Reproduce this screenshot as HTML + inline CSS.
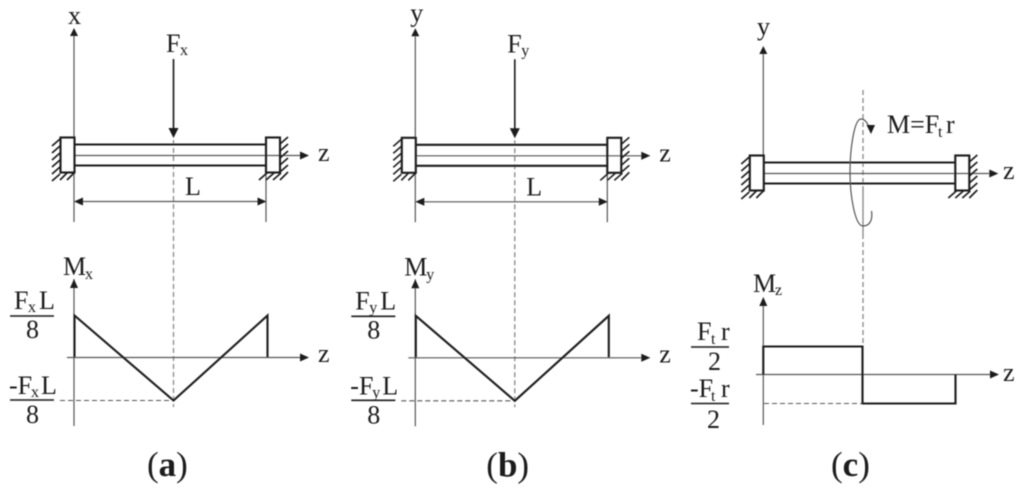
<!DOCTYPE html>
<html>
<head>
<meta charset="utf-8">
<style>
html,body{margin:0;padding:0;background:#fff;width:1024px;height:492px;overflow:hidden}
svg{display:block}
text{font-family:"Liberation Serif",serif;fill:#1a1a1a}
.t{font-size:26px}
.s{font-size:16px}
.b{font-size:35px}
.l1{stroke:#555;stroke-width:1.2;fill:none}
.l2{stroke:#1a1a1a;stroke-width:2.1;fill:none}
.l3{stroke:#1a1a1a;stroke-width:1.6;fill:none}
.d{stroke:#888;stroke-width:1.3;stroke-dasharray:5 3;fill:none}
.d2{stroke:#555;stroke-width:1.1;stroke-dasharray:5 3;fill:none}
.a{fill:#1a1a1a;stroke:none}
</style>
</head>
<body>
<svg width="1024" height="492" viewBox="0 0 1024 492" xmlns="http://www.w3.org/2000/svg">
<defs>
<filter id="bl" x="0" y="0" width="100%" height="100%"><feGaussianBlur stdDeviation="0.4"/></filter>
<g id="beam">
  <path class="l1" d="M74 155.500H300"/>
  <path class="a" d="M300 151.500L309 155.500L300 159.500Z"/>
  <path class="l2" d="M74 144.500H266M74 165.500H266"/>
  <rect x="60.500" y="137.500" width="14" height="35" class="l2"/>
  <rect x="266" y="137.500" width="14" height="35" class="l2"/>
  <path class="l3" d="M60 139L52 146M60 146L52 153M60 153L52 160M60 160L52 167M60 167L52 174M60 174L52 181M67 173L60 180M74 173L67 180"/>
  <path class="l3" d="M288 137L280 144M288 144L280 151M288 151L280 158M288 158L280 165M288 165L280 172M288 172L280 180M281 173L273 180M274 173L266 180M267 173L259 180"/>
</g>
<g id="bending">
  <path class="l1" d="M67 357.500H300"/>
  <path class="a" d="M300 353.500L309 357.500L300 361.500Z"/>
  <path class="l2" d="M74.500 357V315.500L173.500 400.500L267.500 315.500V357"/>
  <path class="d2" d="M60 400.500H172"/>
  <path class="l3" d="M10 316H54M10 400H54"/>
</g>
<g id="dim">
  <path class="l1" d="M74 172V222M266 172V222M80 201.500H260"/>
  <path class="a" d="M74 201.500L83 197.500V205.500ZM266.500 201.500L257.500 197.500V205.500Z"/>
  <path class="l3" d="M173.500 59V130"/>
  <path class="a" d="M168.500 128H178.500L173.500 138Z"/>
</g>
</defs>
<rect width="1024" height="492" fill="#fff"/>
<g filter="url(#bl)">

<!-- Panel a -->
<path class="d" d="M173.500 140V407"/>
<path class="l1" d="M74 36V137M74 279V426"/>
<path class="a" d="M74 28L78 36H70ZM74 279L78 288H70Z"/>
<use href="#dim"/><use href="#beam"/><use href="#bending"/>
<text class="t" x="68" y="24">x</text>
<text class="t" x="166" y="52">F</text><text class="s" x="180" y="55">x</text>
<text class="t" x="318" y="161">z</text>
<text class="t" x="185" y="195">L</text>
<text class="t" x="63" y="275">M</text><text class="s" x="85" y="279">x</text>
<text class="t" x="14" y="309">F</text><text class="s" x="28" y="312">x</text><text class="t" x="39" y="309">L</text>
<text class="t" x="26" y="338">8</text>
<text class="t" x="318" y="362">z</text>
<text class="t" x="9" y="394">-F</text><text class="s" x="31" y="397">x</text><text class="t" x="41" y="394">L</text>
<text class="t" x="26" y="423">8</text>
<text class="b" x="147" y="476">(<tspan font-weight="bold">a</tspan>)</text>

<!-- Panel b -->
<g transform="translate(341.300 0.300)">
<path class="d" d="M173.500 140V407"/>
<path class="l1" d="M74 36V137M74 279V426"/>
<path class="a" d="M74 28L78 36H70ZM74 279L78 288H70Z"/>
<use href="#dim"/><use href="#beam"/><use href="#bending"/>
<text class="t" x="69" y="21">y</text>
<text class="t" x="166" y="52">F</text><text class="s" x="180" y="55">y</text>
<text class="t" x="318" y="161">z</text>
<text class="t" x="185" y="195">L</text>
<text class="t" x="63" y="275">M</text><text class="s" x="85" y="279">y</text>
<text class="t" x="14" y="309">F</text><text class="s" x="28" y="312">y</text><text class="t" x="39" y="309">L</text>
<text class="t" x="26" y="338">8</text>
<text class="t" x="318" y="362">z</text>
<text class="t" x="9" y="394">-F</text><text class="s" x="31" y="397">y</text><text class="t" x="41" y="394">L</text>
<text class="t" x="26" y="423">8</text>
<text class="b" x="145" y="476">(<tspan font-weight="bold">b</tspan>)</text>
</g>

<!-- Panel c -->
<path class="d" d="M863 90V346"/>
<path class="l1" d="M763.300 54V155M763.300 305V425"/>
<path class="a" d="M763.300 46L767.300 54H759.300ZM763.300 297L767.300 306H759.300Z"/>
<g transform="translate(689.300 18)"><use href="#beam"/></g>
<path class="d" d="M863 190V238"/>
<path class="l1" d="M869 127C867 122 864 119 861 119C854 119 850 150 850 172C850 196 855 226 863 226C869 226 873 221 871.500 211"/>
<path class="a" d="M866.500 125H875L871 134Z"/>
<text class="t" x="757" y="35">y</text>
<text class="t" x="887" y="133">M=F</text><text class="s" x="938" y="137">t</text><text class="t" x="946" y="133">r</text>
<text class="t" x="1003" y="179">z</text>
<path class="l1" d="M756 374.500H990"/>
<path class="a" d="M990 370.500L999 374.500L990 378.500Z"/>
<path class="l2" d="M763.300 374.500V346.500H862.500V403.500H955.500V374.500"/>
<path class="d2" d="M764 403.500H862"/>
<path class="l3" d="M691 347H729M691 403.500H729"/>
<text class="t" x="753" y="292">M</text><text class="s" x="775" y="295">z</text>
<text class="t" x="697" y="340">F</text><text class="s" x="711" y="344">t</text><text class="t" x="721" y="340">r</text>
<text class="t" x="708" y="370">2</text>
<text class="t" x="1003" y="381">z</text>
<text class="t" x="690" y="397">-F</text><text class="s" x="711" y="401">t</text><text class="t" x="721" y="397">r</text>
<text class="t" x="707" y="428">2</text>
<text class="b" x="831" y="476">(<tspan font-weight="bold">c</tspan>)</text>

</g>
</svg>
</body>
</html>
